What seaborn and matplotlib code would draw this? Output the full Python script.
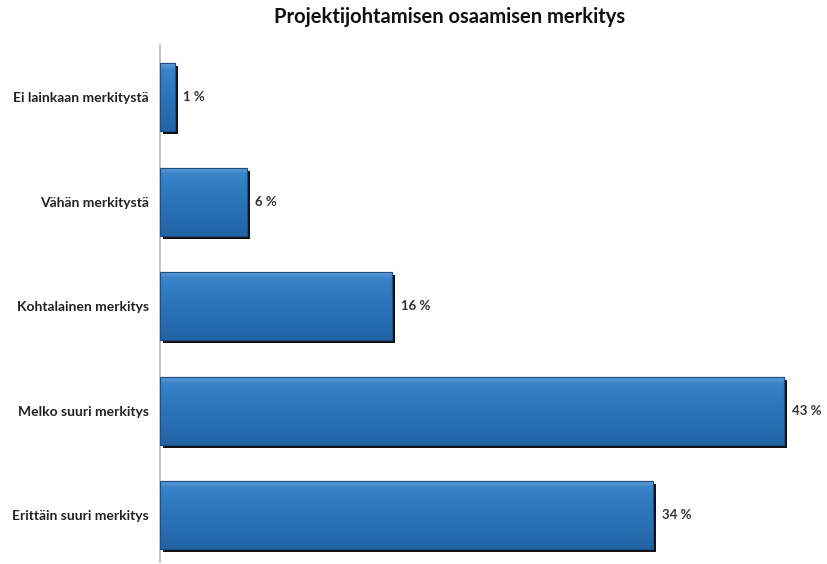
import matplotlib
matplotlib.use("Agg")
import matplotlib.pyplot as plt
import matplotlib.patches as mpatches
from matplotlib.transforms import ScaledTranslation
import numpy as np
import pandas as pd
import seaborn as sns

categories = ["Ei lainkaan merkitystä", "Vähän merkitystä", "Kohtalainen merkitys",
              "Melko suuri merkitys", "Erittäin suuri merkitys"]
values = [1, 6, 16, 43, 34]
value_labels = ["1 %", "6 %", "16 %", "43 %", "34 %"]
title = "Projektijohtamisen osaamisen merkitys"

sns.set_theme(style="white")
plt.rcParams["font.family"] = ["Lato", "DejaVu Sans"]

df = pd.DataFrame({"cat": categories, "val": values})

fig = plt.figure(figsize=(8.27, 5.64), dpi=100)
ax = fig.add_axes([0.1935, 0.0035, 0.793, 0.9167])

sns.barplot(data=df, x="val", y="cat", orient="h", color="#2b6fb4",
            width=0.65, saturation=1, ax=ax, zorder=3)

# drop shadow and gradient sheen for each bar
cmap = matplotlib.colors.LinearSegmentedColormap.from_list(
    "bar", ["#5b9ad6", "#3580c6", "#2a72b8", "#2264a6"])
for p in list(ax.patches):
    x0, y0 = p.get_x(), p.get_y()
    w, h = p.get_width(), p.get_height()
    off = ScaledTranslation(3 / 100, -3 / 100, fig.dpi_scale_trans)
    shadow = mpatches.Rectangle((x0, y0), w, h, transform=ax.transData + off,
                                facecolor="#111111", edgecolor="none", zorder=2)
    ax.add_patch(shadow)
    p.set_edgecolor("#1d4f82")
    p.set_linewidth(0.8)
    grad = np.concatenate([np.linspace(0, 0.25, 6), np.linspace(0.3, 1, 58)]).reshape(-1, 1)
    im = ax.imshow(grad, extent=(x0, x0 + w, y0 + h, y0), aspect="auto",
                   cmap=cmap, zorder=3.5, interpolation="bilinear")
    im.set_clip_path(p)
    ax.add_patch(mpatches.Rectangle((x0, y0), w, h, facecolor="none",
                                    edgecolor="#1d4f82", linewidth=0.8, zorder=4))

for i, (v, lab) in enumerate(zip(values, value_labels)):
    ax.annotate(lab, xy=(v, i), xytext=(6, 0), textcoords="offset points",
                va="center", ha="left", fontsize=9.5, fontweight="bold", color="#333333")

ax.set_xlim(0, 45.2)
ax.set_ylim(4.45, -0.5)
ax.set_xlabel("")
ax.set_ylabel("")
ax.set_xticks([])
ax.tick_params(axis="y", length=0, pad=8, labelsize=10, labelcolor="#222222")
for lab in ax.get_yticklabels():
    lab.set_fontweight("bold")
for s in ["top", "right", "bottom"]:
    ax.spines[s].set_visible(False)
ax.spines["left"].set_color("#bbbbbb")
ax.spines["left"].set_linewidth(1.2)

fig.text(0.544, 0.97, title, ha="center", va="center", fontsize=14.5,
         fontweight="bold", color="#111111")

fig.savefig("out.png", dpi=100, facecolor="white")
